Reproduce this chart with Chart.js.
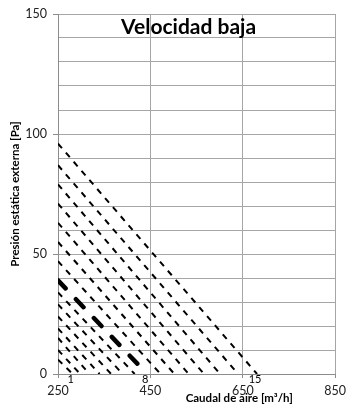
<!DOCTYPE html>
<html>
<head>
<meta charset="utf-8">
<script src="https://cdn.jsdelivr.net/npm/chart.js@4.4.1/dist/chart.umd.min.js"></script>
<style>
    html, body { margin: 0; padding: 0; background: #ffffff; }
    #wrap { width: 351px; height: 407px; }
</style>
</head>
<body>
<div id="wrap"><canvas id="fanChart" width="351" height="407"></canvas></div>
<script>
"use strict";

// Curve numbers (fan steps)
var curveNumbers = [1, 2, 3, 4, 5, 6, 7, 8, 9, 10, 11, 12, 13, 14, 15];

// Pressure [Pa] of each curve at 250 m3/h
var startPressure = [6, 10, 15, 19, 24, 29, 34, 39, 47, 55, 63, 71, 79, 87, 96];

// Air flow [m3/h] where each curve reaches 0 Pa
var zeroFlow = [282, 298, 318, 340, 365, 390, 416, 443, 472, 502, 533, 566, 601, 640, 681];

// Start flow of every curve
var startFlow = 250;

// Curves that carry a number at the x axis
var labelledCurves = [1, 8, 15];

// Highlighted curve
var boldCurve = 8;

var xTicks = [250, 450, 650, 850];
var yLabelTicks = [0, 50, 100, 150];

var chartTitle = "Velocidad baja";
var xTitle = "Caudal de aire [m³/h]";
var yTitle = "Presión estática externa [Pa]";

var fontName = "Lato, 'Open Sans', sans-serif";

window.onload = function() {
    createChart("fanChart");
};

function createChart(elem) {

    var datasets = [];

    for (let i = 0; i < curveNumbers.length; i++) {
        var bold = curveNumbers[i] === boldCurve;

        datasets.push({
            label: String(curveNumbers[i]),
            data: [
                { x: startFlow, y: startPressure[i] },
                { x: zeroFlow[i], y: 0 }
            ],
            showLine: true,
            fill: false,
            borderColor: "#000000",
            borderWidth: bold ? 4.5 : 2,
            borderDash: bold ? [11, 15] : [6, 6],
            borderCapStyle: bold ? "round" : "butt",
            pointRadius: 0,
            pointHoverRadius: 0
        });
    }

    // Draws title and curve numbers on top of the plot
    var overlayText = {
        id: "overlayText",
        afterDatasetsDraw: function(chart) {
            var ctx = chart.ctx;
            var area = chart.chartArea;
            var xs = chart.scales.x;

            ctx.save();
            ctx.fillStyle = "#000000";
            ctx.textAlign = "center";
            ctx.textBaseline = "middle";

            // Title inside the plot
            ctx.font = "bold 21px " + fontName;
            ctx.fillText(chartTitle, (area.left + area.right) / 2 - 8, area.top + 13);

            // Curve numbers at the x axis
            ctx.font = "11px " + fontName;
            for (let i = 0; i < labelledCurves.length; i++) {
                var idx = curveNumbers.indexOf(labelledCurves[i]);
                ctx.fillText(String(labelledCurves[i]), xs.getPixelForValue(zeroFlow[idx]) - 2, area.bottom + 5);
            }

            // X axis title, set to the right like the original
            ctx.font = "bold 11.5px " + fontName;
            ctx.fillText(xTitle, area.left + (area.right - area.left) * 0.654, area.bottom + 24);
            ctx.restore();
        }
    };

    var config = {
        type: "scatter",
        data: {
            datasets: datasets
        },
        options: {
            responsive: false,
            animation: false,
            layout: {
                padding: { top: 14, right: 13, left: 0, bottom: 0 }
            },
            plugins: {
                legend: { display: false },
                tooltip: { enabled: false },
                title: { display: false }
            },
            scales: {
                x: {
                    type: "linear",
                    min: 250,
                    max: 850,
                    afterBuildTicks: function(scale) {
                        scale.ticks = xTicks.map(function(v) { return { value: v }; });
                    },
                    afterFit: function(scale) {
                        scale.height = 33;
                    },
                    border: { color: "#8c8c8c", width: 1 },
                    grid: {
                        color: "#a6a6a6",
                        lineWidth: 1,
                        tickLength: 4,
                        tickColor: "#8c8c8c"
                    },
                    ticks: {
                        color: "#222222",
                        padding: 5,
                        maxRotation: 0,
                        font: { family: fontName, size: 12.5 }
                    }
                },
                y: {
                    type: "linear",
                    min: 0,
                    max: 150,
                    afterFit: function(scale) {
                        scale.width = 58;
                    },
                    border: { color: "#8c8c8c", width: 1 },
                    grid: {
                        color: "#a6a6a6",
                        lineWidth: 1,
                        tickLength: 5,
                        tickColor: function(c) {
                            return yLabelTicks.indexOf(c.tick.value) >= 0 ? "#8c8c8c" : "rgba(0,0,0,0)";
                        }
                    },
                    ticks: {
                        stepSize: 10,
                        color: "#222222",
                        padding: 6,
                        font: { family: fontName, size: 12.5 },
                        callback: function(v) {
                            return yLabelTicks.indexOf(v) >= 0 ? String(v) : "";
                        }
                    },
                    title: {
                        display: true,
                        text: yTitle,
                        color: "#000000",
                        padding: { top: 8, bottom: 0 },
                        font: { family: fontName, size: 11.5, weight: "bold" }
                    }
                }
            }
        },
        plugins: [overlayText]
    };

    var ctx = document.getElementById(elem).getContext("2d");
    new Chart(ctx, config);
}
</script>
</body>
</html>
